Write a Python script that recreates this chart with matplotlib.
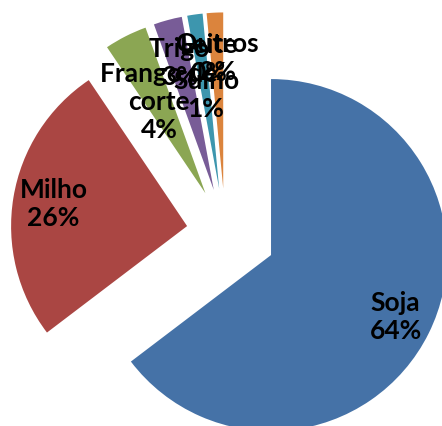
import numpy as np
import matplotlib
matplotlib.use('Agg')
import matplotlib.pyplot as plt

# culturas e participacao (%)
labels = ["Soja", "Milho", "Frango de\ncorte", "Trigo", "Suíno", "Leite", "Outros"]
values = [64.4, 25.8, 3.9, 2.6, 1.4, 0.0, 1.5]
explode = [0.29, 0.22, 0.25, 0.25, 0.25, 0.25, 0.25]
colors = ["#4572A7", "#AA4643", "#8BA653", "#785C97", "#3D96AE", "#DB843D", "#DB843D"]
label_dist = [0.79, 0.77, 0.58, 0.75, 0.54, 0.74, 0.74]

fig = plt.figure(figsize=(4.42, 4.26), dpi=100)
ax = fig.add_axes([0, 0, 1, 1])

wedges, _ = ax.pie(values, explode=explode, colors=colors, startangle=90,
                   counterclock=False, radius=1.0)

for w, lab, v, d in zip(wedges, labels, values, label_dist):
    ang = np.deg2rad((w.theta1 + w.theta2) / 2.0)
    cx, cy = w.center
    ax.text(cx + d * w.r * np.cos(ang), cy + d * w.r * np.sin(ang),
            lab + "\n" + "%.0f%%" % v, ha="center", va="center",
            fontsize=19, fontweight="bold", family="Lato", linespacing=1.2)

# enquadramento: o grafico original corta a fatia da soja
r_px = 176.0
cx_px, cy_px = 225.3, 232.4
ax.set_xlim(-cx_px / r_px, (442 - cx_px) / r_px)
ax.set_ylim(-(426 - cy_px) / r_px, cy_px / r_px)
ax.set_aspect("equal")
ax.axis("off")

fig.savefig("out.png", dpi=100)
